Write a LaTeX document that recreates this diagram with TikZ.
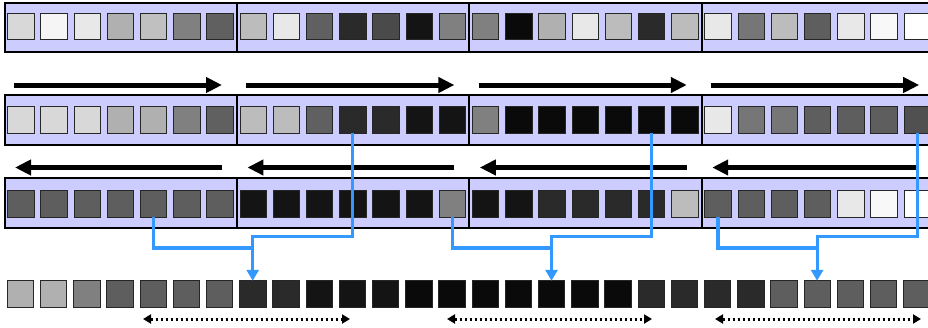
\documentclass[tikz,border=0pt]{standalone}
\usetikzlibrary{arrows.meta}
\definecolor{lav}{HTML}{CCCCFF}
\definecolor{bluel}{HTML}{3399FF}
\tikzset{
  cell/.style={draw=black!85, line width=0.8pt, minimum size=26.4pt, inner sep=0pt, outer sep=0pt},
  frame/.style={draw=black, line width=2pt, fill=lav},
  bigarrow/.style={line width=5pt, -{Triangle[length=16pt,width=15pt]}},
  dotarrow/.style={line width=3pt, dash pattern=on 2.6pt off 2.4pt, {Triangle[length=8pt,width=9pt]}-{Triangle[length=8pt,width=9pt]}},
  blueline/.style={draw=bluel, line width=3.2pt},
  bluearrow/.style={draw=bluel, line width=3.2pt, -{Triangle[length=11pt,width=12pt]}}
}
\begin{document}
\begin{tikzpicture}[x=1pt,y=-1pt]
\useasboundingbox (0,0) rectangle (928,327);
\clip (0,0) rectangle (928,327);
% frames
\foreach \k in {0,...,3} {
  \draw[frame] ({4.6+232.4*\k},3) rectangle ++(232.4,49);
  \draw[frame] ({4.6+232.4*\k},95) rectangle ++(232.4,49.5);
  \draw[frame] ({4.6+232.4*\k},178.3) rectangle ++(232.4,49.5);
}
% row 1
\foreach \v [count=\i from 0] in {216,245,232,176,192,128,96, 188,232,96,42,74,20,128, 128,10,176,232,188,42,188, 232,118,188,94,232,248,255} {
  \definecolor{cc}{RGB}{\v,\v,\v}
  \node[cell, fill=cc] (r1c\i) at ({20.8+33.2*\i},26.5) {};
}
% row 2
\foreach \v [count=\i from 0] in {216,216,216,176,176,128,96, 188,188,96,42,42,20,20, 128,10,10,10,10,10,10, 232,118,118,94,94,94,80} {
  \definecolor{cc}{RGB}{\v,\v,\v}
  \node[cell, fill=cc] (r2c\i) at ({20.8+33.2*\i},120) {};
}
% row 3
\foreach \v [count=\i from 0] in {94,94,94,94,94,94,94, 20,20,20,20,20,20,128, 20,20,42,42,42,42,188, 94,94,94,94,232,248,255} {
  \definecolor{cc}{RGB}{\v,\v,\v}
  \node[cell, fill=cc] (r3c\i) at ({20.8+33.2*\i},204) {};
}
% bottom row
\foreach \v [count=\i from 0] in {176,176,128,94,94,94,94,42,42,20,20,20,10,10,10,10,10,10,10,42,42,42,42,94,94,94,94,94} {
  \definecolor{cc}{RGB}{\v,\v,\v}
  \node[cell, fill=cc] (bc\i) at ({20.3+33.2*\i},294) {};
}
% black arrows
\foreach \k in {0,...,3} {
  \draw[bigarrow] ({14+232.4*\k},85) -- ({222+232.4*\k},85);
  \draw[bigarrow] ({222+232.4*\k},167.5) -- ({15+232.4*\k},167.5);
}
% blue connectors
\foreach \a/\b/\c in {10/4/7, 19/13/16, 27/21/24} {
  \coordinate (ja\c) at (bc\c.north |- 0,236.5);
  \coordinate (jb\c) at (bc\c.north |- 0,248);
  \draw[blueline] (r3c\b.south) |- (jb\c);
  \draw[bluearrow] (r2c\a.south) |- (ja\c) -- (bc\c.north);
}
% dotted arrows
\draw[dotarrow] (143,319) -- (350,319);
\draw[dotarrow] (447,319) -- (652,319);
\draw[dotarrow] (715,319) -- (921,319);
\end{tikzpicture}
\end{document}
